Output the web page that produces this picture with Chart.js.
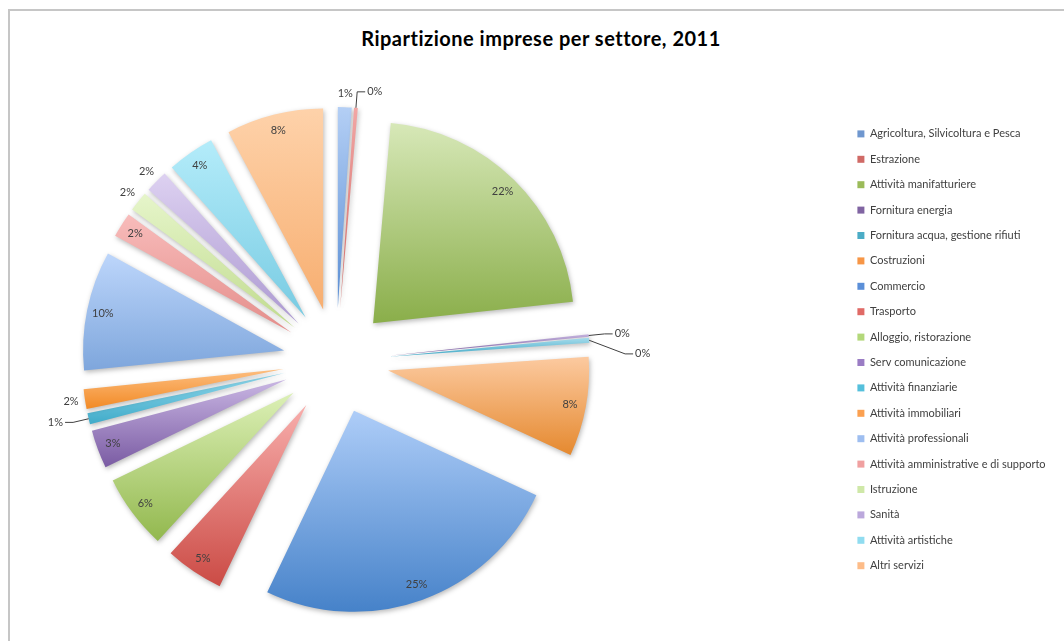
<!DOCTYPE html>
<html>
<head>
<meta charset="utf-8">
<title>Ripartizione imprese per settore, 2011</title>
<script src="https://cdn.jsdelivr.net/npm/chart.js@4.4.1/dist/chart.umd.min.js"></script>
<style>
  html, body { margin: 0; padding: 0; background: #fff; overflow: hidden; }
  body { width: 1064px; height: 641px; position: relative; font-family: Lato, sans-serif; }
  .frame { position: absolute; left: 8px; top: 9px; width: 1100px; height: 700px;
           border-left: 2px solid #c6c6c6; border-top: 2px solid #c6c6c6; }
  h1 { position: absolute; top: 26px; left: 541px; transform: translateX(-50%); margin: 0;
       font: bold 20px Lato, sans-serif; letter-spacing: 0.5px; white-space: nowrap; color: #000; }
  .chart-box { position: absolute; left: -171px; top: 0; width: 1219px; height: 641px; }
</style>
</head>
<body>
<div class="frame"></div>
<h1>Ripartizione imprese per settore, 2011</h1>
<div class="chart-box"><canvas id="chart"></canvas></div>
<script>
const sectors = [
    'Agricoltura, Silvicoltura e Pesca', 'Estrazione', 'Attività manifatturiere', 'Fornitura energia',
    'Fornitura acqua, gestione rifiuti', 'Costruzioni', 'Commercio', 'Trasporto', 'Alloggio, ristorazione',
    'Serv comunicazione', 'Attività finanziarie', 'Attività immobiliari', 'Attività professionali',
    'Attività amministrative e di supporto', 'Istruzione', 'Sanità', 'Attività artistiche', 'Altri servizi'
];
// share of firms per sector, %
const shares = [1.1, 0.3, 21.9, 0.2, 0.4, 8.0, 25.2, 4.7, 6.0, 3.1, 0.9, 1.6, 9.6, 2.0, 1.6, 1.8, 3.8, 7.8];

const baseColors = ['#6f97cf', '#d06a66', '#9bbb59', '#8064a2', '#4bacc6', '#f79646', '#5b8fd8', '#e06a66', '#b3d87a',
                    '#9a7cc4', '#55c0dc', '#fba050', '#9ebef0', '#f0a0a0', '#cfe8a8', '#bba8dc', '#90dcf0', '#fdbc88'];
const lightColors = ['#b4cff5', '#f2a6a4', '#d7e8b8', '#c5b3df', '#a6dcec', '#fccaa0', '#aecdf8', '#f8aeac', '#dcf0b6',
                     '#c9b6e3', '#90d8ec', '#fdbe80', '#bdd6fb', '#f8bcbb', '#e6f5ca', '#ddd1f1', '#b4ecfa', '#fed2aa'];
const darkColors = ['#5a8ed4', '#d06a66', '#8aae4a', '#7d5fa3', '#3fa8c6', '#e5892f', '#4682c9', '#cb4b45', '#92b84e',
                    '#7a5ba3', '#40abc9', '#f28a25', '#7ea6dc', '#e48d8a', '#c0db8e', '#ac99d1', '#78cbe2', '#f7ae70'];

const PIE_RADIUS = 201;
const EXPLODE = 53;

// pull every slice out from the centre and give it a top-to-bottom gradient
const explodePlugin = {
    id: 'explode',
    afterDatasetUpdate(chart, args) {
        const ctx = chart.ctx;
        args.meta.data.forEach((arc, i) => {
            const mid = (arc.startAngle + arc.endAngle) / 2;
            arc.x += Math.cos(mid) * EXPLODE;
            arc.y += Math.sin(mid) * EXPLODE;

            const r = arc.outerRadius;
            const ys = [arc.y, arc.y + Math.sin(arc.startAngle) * r, arc.y + Math.sin(arc.endAngle) * r];
            if (arc.startAngle < Math.PI / 2 && arc.endAngle > Math.PI / 2) ys.push(arc.y + r);
            if (arc.startAngle <= -Math.PI / 2 + 1e-6 || arc.endAngle >= Math.PI * 1.5 - 1e-6) ys.push(arc.y - r);
            const top = Math.min(...ys), bottom = Math.max(...ys);
            const grad = ctx.createLinearGradient(0, top, 0, Math.max(bottom, top + 1));
            grad.addColorStop(0, lightColors[i]);
            grad.addColorStop(1, darkColors[i]);
            arc.options.backgroundColor = grad;
        });
    }
};

const shadowPlugin = {
    id: 'sliceShadow',
    beforeDatasetDraw(chart) {
        const c = chart.ctx;
        c.save();
        c.shadowColor = 'rgba(0, 0, 0, 0.28)';
        c.shadowBlur = 5;
        c.shadowOffsetX = 1;
        c.shadowOffsetY = 2;
    },
    afterDatasetDraw(chart) {
        chart.ctx.restore();
    }
};

// percentage labels: inside for big slices, outside for small, with a leader line under 1%
const labelPlugin = {
    id: 'sliceLabels',
    afterDatasetsDraw(chart) {
        const ctx = chart.ctx;
        const arcs = chart.getDatasetMeta(0).data;
        const total = shares.reduce((a, b) => a + b, 0);
        const lastElbow = { left: null, right: null };

        ctx.save();
        ctx.font = '11px Lato, sans-serif';
        ctx.fillStyle = '#404040';
        ctx.strokeStyle = '#404040';
        ctx.lineWidth = 1;
        ctx.textBaseline = 'middle';

        arcs.forEach((arc, i) => {
            const pct = shares[i] / total * 100;
            const text = Math.round(pct) + '%';
            const mid = (arc.startAngle + arc.endAngle) / 2;
            const cos = Math.cos(mid), sin = Math.sin(mid);
            const r = arc.outerRadius;

            if (pct >= 2) {
                ctx.textAlign = 'center';
                ctx.fillText(text, arc.x + cos * r * 0.92, arc.y + sin * r * 0.92);
            } else if (pct >= 1) {
                ctx.textAlign = 'center';
                ctx.fillText(text, arc.x + cos * (r + 14), arc.y + sin * (r + 14));
            } else {
                const side = cos >= 0 ? 'right' : 'left';
                const sx = arc.x + cos * r, sy = arc.y + sin * r;
                let ex = sx + cos * 16, ey = sy + sin * 16;
                const prev = lastElbow[side];
                if (prev && Math.abs(ey - prev.y) < 20) {
                    ey = prev.y + 20;
                    ex += 20 * (side === 'right' ? 1 : -1);
                }
                lastElbow[side] = { x: ex, y: ey };
                const dirX = side === 'right' ? 1 : -1;
                const hx = ex + 8 * dirX;
                ctx.beginPath();
                ctx.moveTo(sx, sy);
                ctx.lineTo(ex, ey);
                ctx.lineTo(hx, ey);
                ctx.stroke();
                ctx.textAlign = side === 'right' ? 'left' : 'right';
                ctx.fillText(text, hx + 2 * dirX, ey);
            }
        });
        ctx.restore();
    }
};

new Chart(document.getElementById('chart'), {
    type: 'pie',
    data: {
        labels: sectors,
        datasets: [{
            data: shares,
            backgroundColor: baseColors,
            borderWidth: 0,
            radius: PIE_RADIUS
        }]
    },
    options: {
        responsive: true,
        maintainAspectRatio: false,
        animation: false,
        layout: {
            padding: { left: 0, top: 114, right: 0, bottom: 33 }
        },
        plugins: {
            legend: {
                position: 'right',
                align: 'start',
                maxWidth: 205,
                labels: {
                    boxWidth: 7,
                    boxHeight: 7,
                    padding: 14.4,
                    color: '#404040',
                    font: { family: 'Lato', size: 11 }
                }
            },
            tooltip: { enabled: false }
        }
    },
    plugins: [explodePlugin, shadowPlugin, labelPlugin]
});
</script>
</body>
</html>
